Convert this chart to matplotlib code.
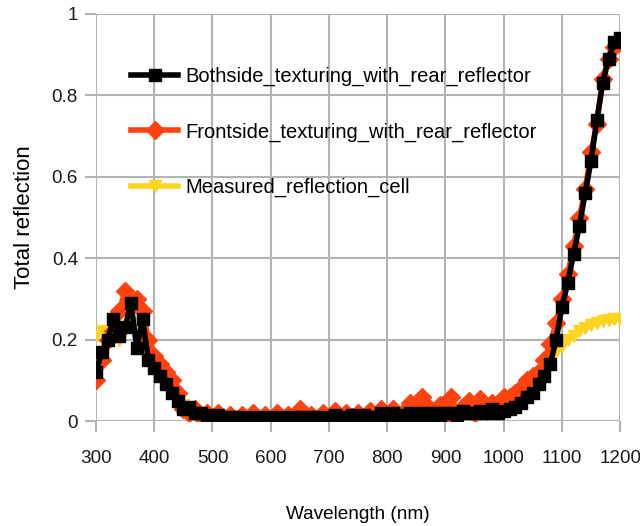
import matplotlib
matplotlib.use('Agg')
import matplotlib.pyplot as plt
import numpy as np

plt.rcParams['font.family'] = ['Liberation Sans', 'DejaVu Sans']

# wavelengths, 10 nm steps
wavelength = np.arange(300, 1201, 10)

bothside = [
    0.12, 0.17, 0.20, 0.25, 0.21, 0.23, 0.29, 0.18, 0.25, 0.15, 0.13,
    0.11, 0.09, 0.07, 0.05, 0.03, 0.035, 0.02, 0.02, 0.015, 0.01,
    0.015, 0.005, 0.01, 0.01, 0.005, 0.01, 0.005, 0.01, 0.005, 0.01,
    0.005, 0.01, 0.005, 0.01, 0.01, 0.005, 0.01, 0.01, 0.005, 0.01,
    0.015, 0.01, 0.005, 0.015, 0.01, 0.015, 0.01, 0.01, 0.02, 0.01,
    0.02, 0.01, 0.015, 0.02, 0.015, 0.02, 0.015, 0.02, 0.015, 0.02,
    0.02, 0.015, 0.025, 0.02, 0.02, 0.025, 0.02, 0.03, 0.02, 0.025,
    0.03, 0.035, 0.045, 0.06, 0.07, 0.09, 0.11, 0.14, 0.20, 0.28,
    0.34, 0.41, 0.48, 0.56, 0.64, 0.74, 0.83, 0.89, 0.93, 0.94,
]

frontside = [
    0.10, 0.15, 0.20, 0.22, 0.27, 0.32, 0.29, 0.30, 0.27, 0.20, 0.16,
    0.14, 0.12, 0.10, 0.07, 0.03, 0.02, 0.03, 0.01, 0.02, 0.005,
    0.02, 0.005, 0.015, 0.0, 0.015, 0.005, 0.02, 0.0, 0.015, 0.005,
    0.02, 0.0, 0.015, 0.005, 0.03, 0.005, 0.015, 0.0, 0.02, 0.01,
    0.025, 0.005, 0.02, 0.01, 0.02, 0.005, 0.025, 0.01, 0.03, 0.015,
    0.03, 0.01, 0.025, 0.045, 0.02, 0.06, 0.035, 0.02, 0.04, 0.01,
    0.06, 0.02, 0.035, 0.05, 0.02, 0.055, 0.025, 0.045, 0.04, 0.06,
    0.06, 0.07, 0.08, 0.10, 0.11, 0.12, 0.15, 0.19, 0.24, 0.30,
    0.36, 0.43, 0.50, 0.57, 0.66, 0.73, 0.84, 0.89, 0.92, 0.93,
]

measured = [
    0.21, 0.22, 0.21, 0.20, 0.20, 0.22, 0.24, 0.22, 0.20, 0.16, 0.13,
    0.11, 0.09, 0.07, 0.05, 0.04, 0.03, 0.025, 0.02, 0.02, 0.015,
    0.015, 0.01, 0.01, 0.01, 0.01, 0.01, 0.01, 0.01, 0.01, 0.01,
    0.01, 0.01, 0.01, 0.01, 0.01, 0.01, 0.01, 0.01, 0.01, 0.012,
    0.012, 0.012, 0.012, 0.013, 0.013, 0.014, 0.014, 0.015, 0.015, 0.016,
    0.016, 0.017, 0.017, 0.018, 0.018, 0.019, 0.02, 0.02, 0.021, 0.022,
    0.022, 0.023, 0.024, 0.025, 0.026, 0.027, 0.028, 0.03, 0.032, 0.035,
    0.04, 0.045, 0.055, 0.07, 0.09, 0.11, 0.13, 0.15, 0.17, 0.185,
    0.20, 0.21, 0.22, 0.228, 0.235, 0.24, 0.245, 0.248, 0.25, 0.25,
]

labels = ['Bothside_texturing_with_rear_reflector',
          'Frontside_texturing_with_rear_reflector',
          'Measured_reflection_cell']

fig = plt.figure(figsize=(6.4, 5.26), dpi=100)
ax = fig.add_axes([0.15, 0.1996, 0.819, 0.7738])

l3, = ax.plot(wavelength, measured, color='#ffd320', lw=4, marker='v',
              ms=8, zorder=3, label=labels[2])
l2, = ax.plot(wavelength, frontside, color='#ff420e', lw=4, marker='D',
              ms=9, zorder=4, label=labels[1])
l1, = ax.plot(wavelength, bothside, color='#000000', lw=4, marker='s',
              ms=8, zorder=5, label=labels[0])

ax.set_xlim(300, 1200)
ax.set_ylim(0, 1)
ax.set_xticks(range(300, 1201, 100))
ax.set_yticks([0, 0.2, 0.4, 0.6, 0.8, 1.0])
ax.set_yticklabels(['0', '0.2', '0.4', '0.6', '0.8', '1'])
ax.grid(True, color='#b3b3b3', lw=1.5, zorder=0)
for s in ax.spines.values():
    s.set_visible(False)
ax.tick_params(length=8, width=1.5, color='#b3b3b3', labelsize=13.6,
               labelcolor='#1a1a1a', pad=5)
ax.tick_params(axis='x', pad=13)
ax.set_axisbelow(True)

ax.set_xlabel('Wavelength (nm)', fontsize=13.7, labelpad=28)
ax.set_ylabel('Total reflection', fontsize=16, labelpad=12)

ax.legend(handles=[l1, l2, l3], loc='upper left', bbox_to_anchor=(0.067, 0.87),
          frameon=False, fontsize=14.5, handlelength=2.35, labelspacing=1.8,
          handletextpad=0.35, borderaxespad=0, borderpad=0)

fig.savefig('out.png', dpi=100)
